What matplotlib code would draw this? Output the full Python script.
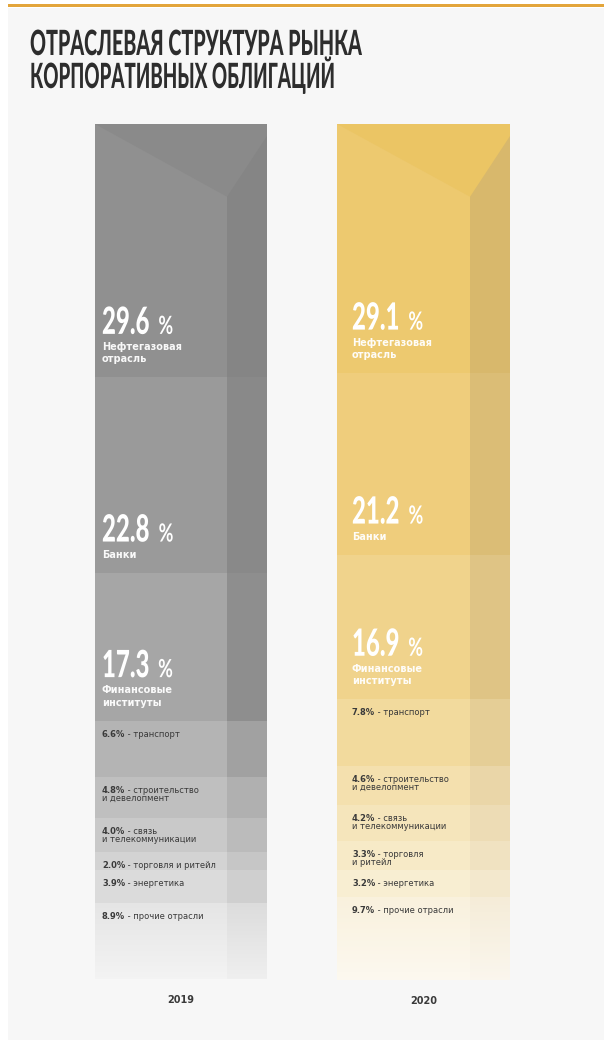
import numpy as np
import matplotlib
matplotlib.use("Agg")
import matplotlib.pyplot as plt
from matplotlib import patheffects
from matplotlib.transforms import Affine2D
from matplotlib.patches import Polygon, Rectangle
from matplotlib.colors import LinearSegmentedColormap

# ---- data -------------------------------------------------------------
years = ["2019", "2020"]
shares_2019 = [29.6, 22.8, 17.3, 6.6, 4.8, 4.0, 2.0, 3.9, 8.9]
shares_2020 = [29.1, 21.2, 16.9, 7.8, 4.6, 4.2, 3.3, 3.2, 9.7]
sectors_2019 = ["Нефтегазовая\nотрасль", "Банки", "Финансовые\nинституты",
                "транспорт", "строительство\nи девелопмент",
                "связь\nи телекоммуникации", "торговля и ритейл",
                "энергетика", "прочие отрасли"]
sectors_2020 = ["Нефтегазовая\nотрасль", "Банки", "Финансовые\nинституты",
                "транспорт", "строительство\nи девелопмент",
                "связь\nи телекоммуникации", "торговля\nи ритейл",
                "энергетика", "прочие отрасли"]
title_lines = ["ОТРАСЛЕВАЯ СТРУКТУРА РЫНКА", "КОРПОРАТИВНЫХ ОБЛИГАЦИЙ"]
n_big = 3  # sectors shown with a large white figure

# ---- palette ----------------------------------------------------------
front_2019 = ["#909090", "#9a9a9a", "#a6a6a6", "#b4b4b4", "#bfbfbf",
              "#c9c9c9", "#d3d3d3", "#dbdbdb", "#e5e5e5"]
side_2019 = ["#858585", "#898989", "#8e8e8e", "#a1a1a1", "#b0b0b0",
             "#bbbbbb", "#c6c6c6", "#cfcfcf", "#dcdcdc"]
top_2019 = "#8a8a8a"
front_2020 = ["#edc96f", "#efcd7c", "#f0d38c", "#f2da9d", "#f4e0ae",
              "#f5e5bb", "#f7eac7", "#f8eed2", "#f9f1dd"]
side_2020 = ["#d8b86c", "#dbbd76", "#dfc485", "#e5ce96", "#eAd6a8",
             "#eddcb5", "#f0e2c1", "#f3e8cd", "#f5ecd8"]
top_2020 = "#ebc564"


class Tall(patheffects.AbstractPathEffect):
    """Stretch glyph outlines vertically about the baseline."""

    def __init__(self, sy=1.0):
        super().__init__()
        self.sy = sy

    def draw_path(self, renderer, gc, tpath, affine, rgbFace=None):
        renderer.draw_path(gc, tpath, Affine2D().scale(1.0, self.sy) + affine,
                           rgbFace)


def display_face(t, narrow):
    """Turn a heavy text into a tall, narrow display face of the same height."""
    t.set_fontsize(t.get_fontsize() * narrow)
    t.set_path_effects([Tall(1.0 / narrow)])
    return t


W, H = 604, 1040
TOP, BOT = 124, 980

fig = plt.figure(figsize=(W / 100, H / 100), dpi=100, facecolor="white")

# background panel and accent rule
bg = fig.add_axes([0, 0, 1, 1])
bg.set_xlim(0, W)
bg.set_ylim(H, 0)
bg.axis("off")
bg.add_patch(Rectangle((8, 8), W - 8, H - 8, color="#f7f7f7", lw=0))
bg.add_patch(Rectangle((8, 4), W - 8, 3.2, color="#e3a53b", lw=0))

HEAVY = ["Lato", "DejaVu Sans"]
renderer = fig.canvas.get_renderer()
for line, yb, target in zip(title_lines, [55, 88], [332, 305]):
    t = bg.text(30, yb, line, fontsize=25, fontweight="black", family=HEAVY,
                color="#2d2d2d", ha="left", va="baseline")
    display_face(t, target / t.get_window_extent(renderer).width)

# ---- bars ---------------------------------------------------------------
ax = fig.add_axes([0, 1 - BOT / H, 1, (BOT - TOP) / H])

front_left = [95, 337]
front_w = [132, 133]
side_w = [40, 40]
label_x = [102, 352]

bars = [
    (shares_2019, sectors_2019, front_2019, side_2019, top_2019),
    (shares_2020, sectors_2020, front_2020, side_2020, top_2020),
]

fade = LinearSegmentedColormap.from_list(
    "fade", [(1, 1, 1, 0.0), (1, 1, 1, 0.55)])
ramp = np.linspace(0, 1, 128).reshape(-1, 1)

for i, (shares, names, fcol, scol, tcol) in enumerate(bars):
    shares = np.asarray(shares)
    starts = np.concatenate([[0.0], np.cumsum(shares)[:-1]])
    ends = starts + shares
    x0 = front_left[i]
    x1 = x0 + front_w[i]
    x2 = x1 + side_w[i]
    ax.bar([x0] * len(shares), shares, width=front_w[i], bottom=starts,
           align="edge", color=fcol, linewidth=0, antialiased=False)
    ax.bar([x1] * len(shares), shares, width=side_w[i], bottom=starts,
           align="edge", color=scol, linewidth=0, antialiased=False)
    # lowest block fades out towards the floor
    ax.imshow(ramp, extent=(x0, x2, ends[-1], starts[-1]), origin="upper",
              cmap=fade, aspect="auto", interpolation="bilinear", zorder=2)
    # top face of the prism
    ax.add_patch(Polygon([(x0, 0), (x2, 0), (x2, 1.4), (x1, 8.5)],
                         closed=True, color=tcol, lw=0, zorder=2))

    lx = label_x[i]
    for k, (val, name) in enumerate(zip(shares, names)):
        lines = name.split("\n")
        if k < n_big:
            for j, line in enumerate(reversed(lines)):
                ax.annotate(line, xy=(lx, ends[k]), xytext=(0, 15 + 12.5 * j),
                            textcoords="offset pixels", ha="left",
                            va="baseline", fontsize=7, fontweight="bold",
                            family="DejaVu Sans", color="white", alpha=0.95,
                            zorder=3)
            off = 15 + 12.5 * (len(lines) - 1) + 16
            num = ax.annotate(f"{val:.1f}", xy=(lx, ends[k]), xytext=(0, off),
                              textcoords="offset pixels", ha="left",
                              va="baseline", fontsize=27, fontweight="black",
                              family=HEAVY, color="white", zorder=3)
            display_face(num, 0.64)
            pc = ax.annotate("%", xy=(1, ends[k]), xycoords=(num, "data"),
                             xytext=(9, off), textcoords="offset pixels",
                             ha="left", va="baseline", fontsize=18,
                             fontweight="bold", family=HEAVY, color="white",
                             zorder=3)
            display_face(pc, 0.72)
        else:
            pct = ax.annotate(f"{val:.1f}%", xy=(lx, starts[k]),
                              xytext=(0, -16), textcoords="offset pixels",
                              ha="left", va="baseline", fontsize=6,
                              fontweight="bold", family="DejaVu Sans",
                              color="#3a3a3a", zorder=3)
            ax.annotate(" - " + lines[0], xy=(1, starts[k]),
                        xycoords=(pct, "data"), xytext=(0, -16),
                        textcoords="offset pixels", ha="left", va="baseline",
                        fontsize=6, family="DejaVu Sans", color="#3a3a3a",
                        zorder=3)
            for j, line in enumerate(lines[1:], start=1):
                ax.annotate(line, xy=(lx, starts[k]),
                            xytext=(0, -16 - 7.5 * j),
                            textcoords="offset pixels", ha="left",
                            va="baseline", fontsize=6, family="DejaVu Sans",
                            color="#3a3a3a", zorder=3)

    ax.annotate(years[i], xy=((x0 + x2) / 2, ends[-1]), xytext=(0, -24),
                textcoords="offset pixels", ha="center", va="baseline",
                fontsize=7, fontweight="semibold", family="DejaVu Sans",
                color="#3a3a3a")

ax.set_xlim(0, W)
ax.set_ylim(100, 0)
ax.axis("off")

fig.savefig("out.png", dpi=100, facecolor=fig.get_facecolor())
